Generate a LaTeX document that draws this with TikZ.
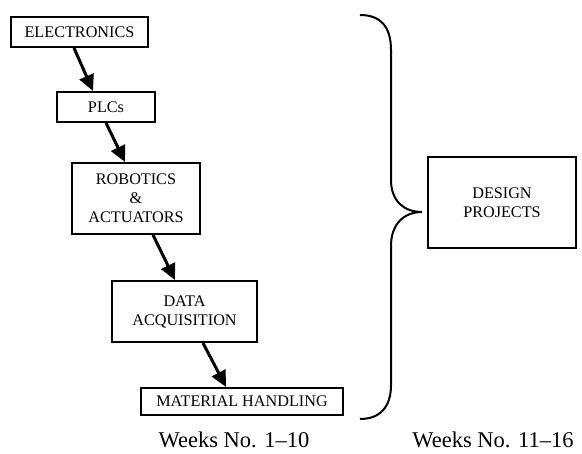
\documentclass[tikz,border=0pt]{standalone}
\usepackage{fontspec}
\setmainfont{Liberation Serif}
\usetikzlibrary{arrows.meta}
\newcommand{\boxFont}{\fontsize{16.2}{19}\selectfont}
\newcommand{\weekFont}{\fontsize{22.5}{26}\selectfont}
\newcommand{\boxLine}{2pt}
\newcommand{\arrowLine}{3pt}

\tikzset{
  topicbox/.style={draw, line width=\boxLine, inner sep=0pt, align=center, font=\boxFont},
  flowarrow/.style={-{Triangle[length=16pt,width=15pt]}, line width=\arrowLine},
}

\begin{document}
\begin{tikzpicture}[x=1pt, y=-1pt]
\useasboundingbox (0,0) rectangle (582,454);

% topics, weeks 1-10
\node[topicbox, minimum width=137pt, minimum height=30pt] (elec) at (79.5,32) {ELECTRONICS};
\node[topicbox, minimum width=98pt, minimum height=30pt] (plcs) at (106,107) {PLCs};
\node[topicbox, minimum width=128pt, minimum height=71pt] (robot) at (136,198.5) {ROBOTICS\\ \&\\ ACTUATORS};
\node[topicbox, minimum width=145pt, minimum height=61pt] (daq) at (184.5,311.5) {DATA\\ ACQUISITION};
\node[topicbox, minimum width=202pt, minimum height=27pt] (mat) at (242,401.5) {MATERIAL HANDLING};

\draw[flowarrow] ([xshift=-5.5pt]elec.south) -- ([xshift=-13pt]plcs.north);
\draw[flowarrow] (plcs.south) -- ([xshift=-11pt]robot.north);
\draw[flowarrow] ([xshift=17pt]robot.south) -- ([xshift=-9.5pt]daq.north);
\draw[flowarrow] ([xshift=18.5pt]daq.south) -- ([xshift=-16pt]mat.north);

% brace
\draw[line width=2pt] (360,15) .. controls (380,15) and (391,26) .. (391,50) -- (391,180)
   .. controls (391,201) and (404,212) .. (422,212)
   .. controls (404,212) and (391,224) .. (391,246) -- (391,385)
   .. controls (391,407) and (380,419) .. (360,419);

% weeks 11-16
\node[topicbox, minimum width=148pt, minimum height=91pt] (design) at (502,202.5) {DESIGN\\ PROJECTS};

\node[font=\weekFont, anchor=base, inner sep=0pt] (weeksA) at (234,448) {Weeks No. 1--10};
\node[font=\weekFont, anchor=base, inner sep=0pt] (weeksB) at (493,448) {Weeks No. 11--16};
\end{tikzpicture}
\end{document}
